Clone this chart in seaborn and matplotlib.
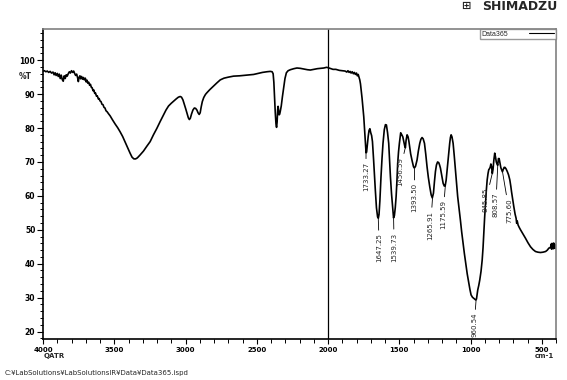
import numpy as np
import matplotlib
matplotlib.use("Agg")
import matplotlib.pyplot as plt
from matplotlib.ticker import MultipleLocator
import seaborn as sns

# IR spectrum Data365 (QATR)
wavenumber = [
    4000, 3990, 3980, 3970, 3960, 3950, 3940, 3930, 3922, 3915, 3908, 3900,
    3893, 3886, 3879, 3872, 3865, 3858, 3851, 3844, 3837, 3830, 3822, 3815,
    3808, 3800, 3792, 3785, 3778, 3771, 3764, 3757, 3752, 3747, 3741, 3735,
    3729, 3722, 3716, 3710, 3703, 3697, 3691, 3685, 3679, 3673, 3667, 3661,
    3655, 3649, 3643, 3637, 3631, 3625, 3619, 3612, 3606, 3600, 3593, 3586,
    3579, 3572, 3565, 3558, 3550, 3540, 3529, 3512, 3494, 3476, 3459, 3441,
    3424, 3406, 3389, 3375, 3362, 3350, 3338, 3320, 3295, 3272, 3248, 3225,
    3201, 3178, 3155, 3137, 3119, 3100, 3084, 3065, 3050, 3037, 3028, 3018,
    3008, 2998, 2988, 2980, 2973, 2966, 2958, 2948, 2938, 2929, 2920, 2912,
    2904, 2897, 2890, 2882, 2872, 2860, 2850, 2830, 2803, 2780, 2756, 2730,
    2700, 2663, 2620, 2570, 2522, 2490, 2460, 2428, 2405, 2392, 2385, 2380,
    2375, 2370, 2365, 2361, 2357, 2353, 2350, 2347, 2343, 2339, 2335, 2328,
    2320, 2311, 2302, 2292, 2280, 2264, 2240, 2218, 2194, 2170, 2145, 2124,
    2100, 2075, 2054, 2030, 2010, 2000, 1985, 1965, 1945, 1920, 1900, 1880,
    1868, 1860, 1852, 1845, 1838, 1830, 1822, 1815, 1808, 1800, 1794, 1788,
    1782, 1777, 1772, 1767, 1761, 1755, 1749, 1743, 1738, 1733, 1729, 1724,
    1718, 1712, 1706, 1700, 1694, 1688, 1680, 1674, 1668, 1660, 1652, 1647,
    1642, 1636, 1628, 1621, 1614, 1605, 1597, 1590, 1582, 1574, 1568, 1562,
    1554, 1546, 1540, 1534, 1528, 1522, 1516, 1511, 1505, 1499, 1490, 1482,
    1475, 1468, 1461, 1457, 1452, 1445, 1438, 1432, 1427, 1420, 1410, 1400,
    1394, 1386, 1375, 1366, 1356, 1348, 1340, 1332, 1323, 1314, 1305, 1296,
    1286, 1276, 1268, 1260, 1253, 1246, 1239, 1231, 1223, 1217, 1211, 1201,
    1192, 1184, 1178, 1171, 1164, 1155, 1146, 1141, 1136, 1130, 1122, 1114,
    1106, 1098, 1090, 1080, 1071, 1062, 1052, 1043, 1034, 1023, 1012, 1004,
    996, 986, 977, 970, 963, 958, 954, 949, 942, 935, 926, 918,
    912, 907, 901, 895, 889, 883, 877, 872, 867, 862, 857, 852,
    847, 842, 836, 830, 825, 819, 814, 809, 804, 799, 793, 787,
    781, 776, 770, 764, 758, 751, 742, 733, 724, 717, 712, 704,
    696, 687, 680, 676, 672, 666, 658, 649, 632, 614, 597, 579,
    562, 544, 527, 509, 491, 473, 461, 450, 443, 438, 434, 431,
    428, 425, 422, 419, 416, 413, 410, 407, 404, 401,
]
transmittance = [
    96.8, 96.9, 96.6, 96.8, 96.4, 96.7, 96.2, 96.5, 95.7, 96.3, 95.5, 96.1,
    95.2, 95.9, 94.6, 95.6, 94.3, 93.8, 95.4, 94.6, 95.7, 95.3, 96.1, 96.6,
    96.2, 96.9, 96.4, 96.8, 96.1, 95.5, 95.9, 94.8, 93.7, 94.9, 95.4, 94.5,
    95.2, 94.4, 94.9, 94.2, 94.7, 93.6, 94.1, 93.2, 93.5, 92.6, 92.9, 92.0,
    91.9, 91.0, 91.2, 90.2, 90.3, 89.4, 89.5, 88.6, 88.7, 88.0, 87.8, 87.0,
    86.9, 86.1, 85.9, 85.1, 84.8, 84.2, 83.6, 82.4, 81.2, 80.1, 78.9, 77.5,
    75.9, 74.2, 72.6, 71.4, 70.9, 70.9, 71.2, 72.0, 73.2, 74.6, 76.0, 78.0,
    79.9, 81.9, 83.8, 85.3, 86.5, 87.3, 87.9, 88.6, 89.1, 89.3, 89.1, 88.3,
    87.0, 85.6, 84.2, 83.0, 82.5, 82.9, 84.1, 85.3, 85.9, 85.8, 85.3, 84.5,
    84.0, 84.5, 86.2, 87.8, 89.0, 89.9, 90.4, 91.3, 92.4, 93.3, 94.2, 94.7,
    95.0, 95.3, 95.4, 95.6, 95.8, 96.1, 96.4, 96.6, 96.7, 96.6, 96.0, 93.5,
    89.0, 84.5, 81.2, 80.2, 81.8, 85.5, 86.4, 85.2, 83.9, 84.1, 84.9, 86.5,
    89.2, 91.8, 94.6, 96.3, 96.9, 97.2, 97.5, 97.7, 97.6, 97.4, 97.2, 97.1,
    97.3, 97.5, 97.6, 97.7, 97.9, 97.8, 97.6, 97.3, 97.3, 97.0, 96.9, 96.8,
    96.5, 96.9, 96.4, 96.7, 96.2, 96.6, 96.0, 96.4, 95.8, 96.2, 95.4, 95.8,
    94.9, 94.2, 93.0, 91.1, 88.8, 86.0, 83.3, 79.5, 76.0, 72.7, 72.9, 75.0,
    77.5, 79.3, 79.8, 78.6, 77.8, 76.0, 70.6, 66.0, 61.8, 56.5, 53.8, 53.4,
    54.5, 58.5, 65.7, 71.0, 75.5, 79.5, 81.0, 80.9, 78.6, 75.5, 70.8, 65.7,
    60.5, 56.5, 53.5, 54.2, 56.5, 59.8, 64.6, 69.6, 73.0, 75.5, 78.6, 78.0,
    77.4, 76.0, 74.6, 74.2, 76.4, 78.0, 77.4, 76.0, 74.5, 72.4, 70.4, 68.6,
    68.2, 68.7, 70.6, 73.2, 75.5, 76.7, 77.2, 76.8, 75.5, 72.3, 68.6, 65.5,
    62.7, 60.3, 59.4, 60.8, 64.2, 67.2, 69.1, 70.0, 69.8, 69.1, 68.2, 65.8,
    63.7, 62.9, 62.9, 64.6, 67.7, 71.8, 75.5, 77.2, 78.0, 77.4, 75.5, 71.8,
    67.7, 63.5, 59.8, 56.2, 52.9, 49.4, 46.0, 43.0, 40.2, 37.0, 34.3, 32.4,
    30.8, 30.1, 29.8, 29.6, 29.3, 29.6, 30.8, 32.3, 33.6, 35.2, 37.8, 41.1,
    44.7, 49.0, 53.5, 57.8, 61.6, 64.7, 66.6, 67.7, 68.0, 68.4, 69.4, 68.6,
    66.6, 67.8, 70.6, 72.6, 71.6, 70.0, 69.4, 69.0, 71.0, 71.0, 69.6, 68.3,
    67.6, 67.1, 67.8, 68.4, 68.4, 68.0, 67.2, 66.2, 64.7, 62.8, 61.2, 59.0,
    56.8, 54.6, 53.4, 51.9, 52.6, 51.4, 50.7, 50.0, 48.8, 47.5, 46.2, 45.0,
    44.2, 43.6, 43.4, 43.3, 43.4, 43.6, 44.0, 44.6, 44.7, 44.9, 45.8, 44.3,
    46.0, 44.5, 45.9, 44.4, 46.1, 44.6, 45.7, 44.5, 45.4, 44.9,
]

# peak picks printed on the chart
peak_labels = ["1733.27", "1647.25", "1539.73", "1456.59", "1393.50", "1265.91",
               "1175.59", "960.54", "845.85", "808.57", "775.60"]
peak_wn = [1733.27, 1647.25, 1539.73, 1456.59, 1393.50, 1265.91,
           1175.59, 960.54, 845.85, 808.57, 775.60]
# where each label sits relative to its peak (points)
label_offsets = [(0, -7), (0.7, -11), (0.4, -10.5), (-4, -7), (0, -11), (-1.4, -10),
                 (-1.8, -11.5), (-1.4, -9.5), (-4.7, -11), (-1.4, -20), (4.7, -19)]

sns.set_theme(style="ticks")
plt.rcParams['font.family'] = ['DejaVu Sans']

fig = plt.figure(figsize=(5.67, 3.80), dpi=100)
ax = fig.add_axes([43 / 567, 1 - 339 / 380, 513 / 567, 310 / 380])

sns.lineplot(x=wavenumber, y=transmittance, sort=False, estimator=None,
             color='black', linewidth=1.2, ax=ax, label='Data365')
ax.axvline(2000, color='black', linewidth=0.9)

ax.set_xlim(4000, 400)
ax.set_ylim(17.8, 109.2)
ax.xaxis.set_major_locator(MultipleLocator(500))
ax.xaxis.set_minor_locator(MultipleLocator(100))
ax.yaxis.set_major_locator(MultipleLocator(10))
ax.yaxis.set_minor_locator(MultipleLocator(2))
ax.set_xticks([4000, 3500, 3000, 2500, 2000, 1500, 1000, 500])
ax.set_yticks([20, 30, 40, 50, 60, 70, 80, 90, 100])

ax.tick_params(axis='y', which='major', length=4.5, width=0.8, pad=1,
               labelsize=5.5, colors='black')
ax.tick_params(axis='y', which='minor', length=2.2, width=0.7, colors='black')
ax.tick_params(axis='x', which='major', length=3.8, width=0.8, pad=2,
               labelsize=5, colors='black')
ax.tick_params(axis='x', which='minor', length=3.0, width=0.7, colors='black')
for lab in ax.get_xticklabels() + ax.get_yticklabels():
    lab.set_fontweight('bold')

for side in ['left', 'bottom']:
    ax.spines[side].set_color('black')
    ax.spines[side].set_linewidth(1.2)
for side in ['top', 'right']:
    ax.spines[side].set_visible(True)
    ax.spines[side].set_color('#808080')
    ax.spines[side].set_linewidth(1.2)

ax.set_xlabel('')
ax.set_ylabel('')
ax.text(-0.021, 95.1, '%T', transform=ax.get_yaxis_transform(),
        ha='right', va='center', fontsize=5.5, fontweight='bold')

# peak labels with short leader lines
wn_inc = np.array(wavenumber)[::-1]
t_inc = np.array(transmittance)[::-1]
for lab, w, off in zip(peak_labels, peak_wn, label_offsets):
    t = np.interp(w, wn_inc, t_inc)
    ax.annotate(lab, xy=(w, t), xytext=off, textcoords='offset points',
                rotation=90, ha='center', va='top', fontsize=5,
                family=['Liberation Sans Narrow', 'DejaVu Sans'],
                arrowprops=dict(arrowstyle='-', color='black', lw=0.6,
                                shrinkA=0, shrinkB=0.5))

leg = ax.legend(loc='upper right', markerfirst=False, frameon=True, fancybox=False,
                borderaxespad=0, borderpad=0.25, handlelength=3.6,
                handletextpad=3.0,
                prop={'family': 'Liberation Sans', 'size': 5})
leg.get_frame().set_edgecolor('#808080')
leg.get_frame().set_linewidth(1.0)
for ln in leg.get_lines():
    ln.set_linewidth(0.8)

fig.text(471 / 567, 1 - 6 / 380, '⊞', ha='right', va='center',
         fontsize=8, fontweight='bold')
fig.text(557 / 567, 1 - 6 / 380, 'SHIMADZU', ha='right', va='center',
         fontsize=9, fontweight='bold')
fig.text(44 / 567, 1 - 356 / 380, 'QATR', ha='left', va='center',
         fontsize=5, fontweight='bold')
fig.text(554 / 567, 1 - 356 / 380, 'cm-1', ha='right', va='center',
         fontsize=5, fontweight='bold')
fig.text(5 / 567, 1 - 373 / 380,
         'C:¥LabSolutions¥LabSolutionsIR¥Data¥Data365.ispd',
         ha='left', va='center', fontsize=5)

fig.savefig('out.png', dpi=100)
